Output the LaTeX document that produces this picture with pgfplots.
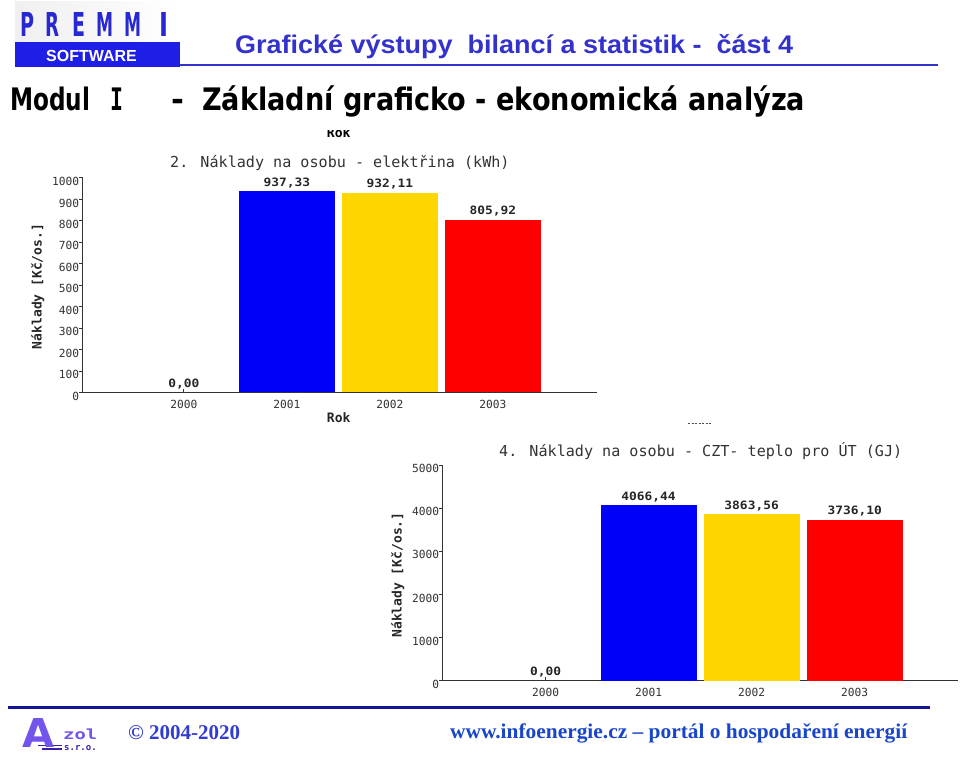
\documentclass[border=0pt]{standalone}
\usepackage{fontspec}
\usepackage{graphicx}
\usepackage{pgfplots}
\pgfplotsset{compat=1.18}
\setmainfont{Liberation Sans}
\newfontfamily\mono{DejaVu Sans Mono}
\newfontfamily\arialf{Liberation Sans}
\newfontfamily\dejav{DejaVu Sans}
\newfontfamily\timesf{Liberation Serif}
\newcommand\fs[1]{\fontsize{#1}{#1}\selectfont}
\definecolor{barblue}{RGB}{0,0,250}
\definecolor{baryellow}{RGB}{255,214,0}
\definecolor{barred}{RGB}{255,0,0}
\definecolor{headblue}{RGB}{51,51,204}
\definecolor{softblue}{RGB}{30,30,230}
\definecolor{letterblue}{RGB}{40,40,210}
\definecolor{footline}{RGB}{20,20,150}
\definecolor{urlblue}{RGB}{25,70,200}
\definecolor{copyblue}{RGB}{50,60,210}
\definecolor{azol}{RGB}{115,85,235}
\definecolor{azoldark}{RGB}{60,30,170}
\pgfplotsset{
  mychart/.style={
    scale only axis,
    axis lines*=left,
    ybar, bar shift=0pt, bar width=96pt,
    ymin=0,
    xtick={0,1,2,3}, xticklabels={2000,2001,2002,2003},
    tick align=outside, major tick length=3.5pt,
    axis line style={draw=black!80, line width=1.2pt},
    tick style={draw=black!80, line width=1pt},
    xtick style={yshift=3.5pt},
    /pgf/number format/assume math mode=true,
    /pgf/number format/1000 sep={},
    ticklabel style={font=\mono\fs{11.2}, text=black!80},
    yticklabel style={inner sep=0pt, yshift=-3.5pt},
    xticklabel style={inner sep=0pt, yshift=-4pt},
    point meta=explicit symbolic,
    nodes near coords={\scalebox{1.12}[1]{\pgfplotspointmeta}},
    every node near coord/.append style={font=\mono\bfseries\fs{11.5}, text=black!85, anchor=base, yshift=5pt, inner sep=0pt},
    clip=false,
  }
}
\begin{document}
\begin{tikzpicture}[x=1pt,y=1pt]
\path[use as bounding box, fill=white] (0,0) rectangle (960,758);

% ---------- header ----------
\shade[left color=gray!12, middle color=gray!50, right color=white] (15,716) rectangle (180,756);
\fill[softblue] (15,691) rectangle (180,716.3);
\node[anchor=base, inner sep=0pt, text=white] at (91.5,696.3) {\arialf\bfseries\fs{16}SOFTWARE};
\foreach \cx/\w/\L in {27/14/P, 52.5/14/R, 78.5/13/E, 104.5/17/M, 132.5/17/M, 164/9/I}
  \node[anchor=base, inner sep=0pt, text=letterblue] at (\cx,721) {\resizebox{\w pt}{24pt}{\dejav\bfseries\fs{24}\L}};
\draw[headblue, line width=2pt] (180,693) -- (938,693);
\node[anchor=base west, inner sep=0pt, text=headblue] at (235,704.7)
  {\resizebox{558pt}{\height}{\arialf\bfseries\fs{25.5}Grafické výstupy\ \ bilancí a statistik -\ \ část 4}};

\node[anchor=base west, inner sep=0pt] at (10,647) {\resizebox{80pt}{\height}{\dejav\bfseries\fs{31}Modul}};
\node[anchor=base, inner sep=0pt] at (116.5,647) {\resizebox{13pt}{\height}{\mono\bfseries\fs{31}I}};
\node[anchor=base, inner sep=0pt] at (177.5,647) {\dejav\bfseries\fs{31}-};
\node[anchor=base west, inner sep=0pt] at (202,647)
  {\resizebox{603pt}{\height}{\dejav\bfseries\fs{31}Základní graficko - ekonomická analýza}};

% ---------- chart 1 ----------
\node[anchor=base, inner sep=0pt] at (338.7,620.7) {\mono\bfseries\fs{13}Rok};
\fill[white] (320,628.3) rectangle (360,636);
\node[anchor=base west, inner sep=0pt, text=black!80] at (170,590) {\mono\fs{15.1}2. Náklady na osobu - elektřina (kWh)};
\node[rotate=90, inner sep=0pt, text=black!85] at (37.7,471.5) {\mono\bfseries\fs{13}Náklady [Kč/os.]};
\node[inner sep=0pt, text=black!85] at (338.7,340) {\mono\bfseries\fs{13}Rok};

\begin{axis}[mychart,
  at={(82.7pt,365.5pt)}, anchor=south west,
  width=514.3pt, height=214.5pt,
  xmin=-0.983, xmax=4.01, ymax=1000,
  ytick={0,100,...,1000}]
\addplot[fill=none, draw=none] coordinates {(0,0) [0,00]};
\addplot[fill=barblue, draw=none] coordinates {(1,937.33) [937,33]};
\addplot[fill=baryellow, draw=none] coordinates {(2,932.11) [932,11]};
\addplot[fill=barred, draw=none] coordinates {(3,805.92) [805,92]};
\end{axis}

% ---------- chart 2 ----------
\draw[black!70, line width=1pt, dash pattern=on 2pt off 1.5pt] (688,334) -- (712,334);
\node[anchor=base west, inner sep=0pt, text=black!80] at (499,301.3) {\mono\fs{15.1}4. Náklady na osobu - CZT- teplo pro ÚT (GJ)};
\node[rotate=90, inner sep=0pt, text=black!85] at (397.8,183) {\mono\bfseries\fs{13}Náklady [Kč/os.]};

\begin{axis}[mychart,
  at={(442.7pt,77.3pt)}, anchor=south west,
  width=515pt, height=215.7pt,
  xmin=-0.998, xmax=4.0, ymax=5000,
  ytick={0,1000,...,5000}]
\addplot[fill=none, draw=none] coordinates {(0,0) [0,00]};
\addplot[fill=barblue, draw=none] coordinates {(1,4066.44) [4066,44]};
\addplot[fill=baryellow, draw=none] coordinates {(2,3863.56) [3863,56]};
\addplot[fill=barred, draw=none] coordinates {(3,3736.10) [3736,10]};
\end{axis}

% ---------- footer ----------
\draw[footline, line width=2.5pt] (8,50.5) -- (930,50.5);
\draw[azoldark, line width=1.2pt] (38,12.5) -- (62,12.5);
\draw[azoldark, line width=1.2pt] (42,9) -- (62,9);
\node[anchor=base, inner sep=0pt, text=azol] at (39,11) {\resizebox{32pt}{29pt}{\dejav\bfseries A}};
\node[anchor=base west, inner sep=0pt, text=azol] at (63,19) {\resizebox{34pt}{\height}{\mono\bfseries\fs{14}zol}};
\node[anchor=base west, inner sep=0pt, text=azoldark] at (64,8) {\mono\bfseries\fs{9}s.r.o.};
\node[anchor=base west, inner sep=0pt, text=copyblue] at (128,19) {\resizebox{112pt}{\height}{\timesf\bfseries\fs{21}© 2004-2020}};
\node[anchor=base west, inner sep=0pt, text=urlblue] at (450,20) {\resizebox{457pt}{\height}{\timesf\bfseries\fs{21}www.infoenergie.cz – portál o hospodaření energií}};
\end{tikzpicture}
\end{document}
